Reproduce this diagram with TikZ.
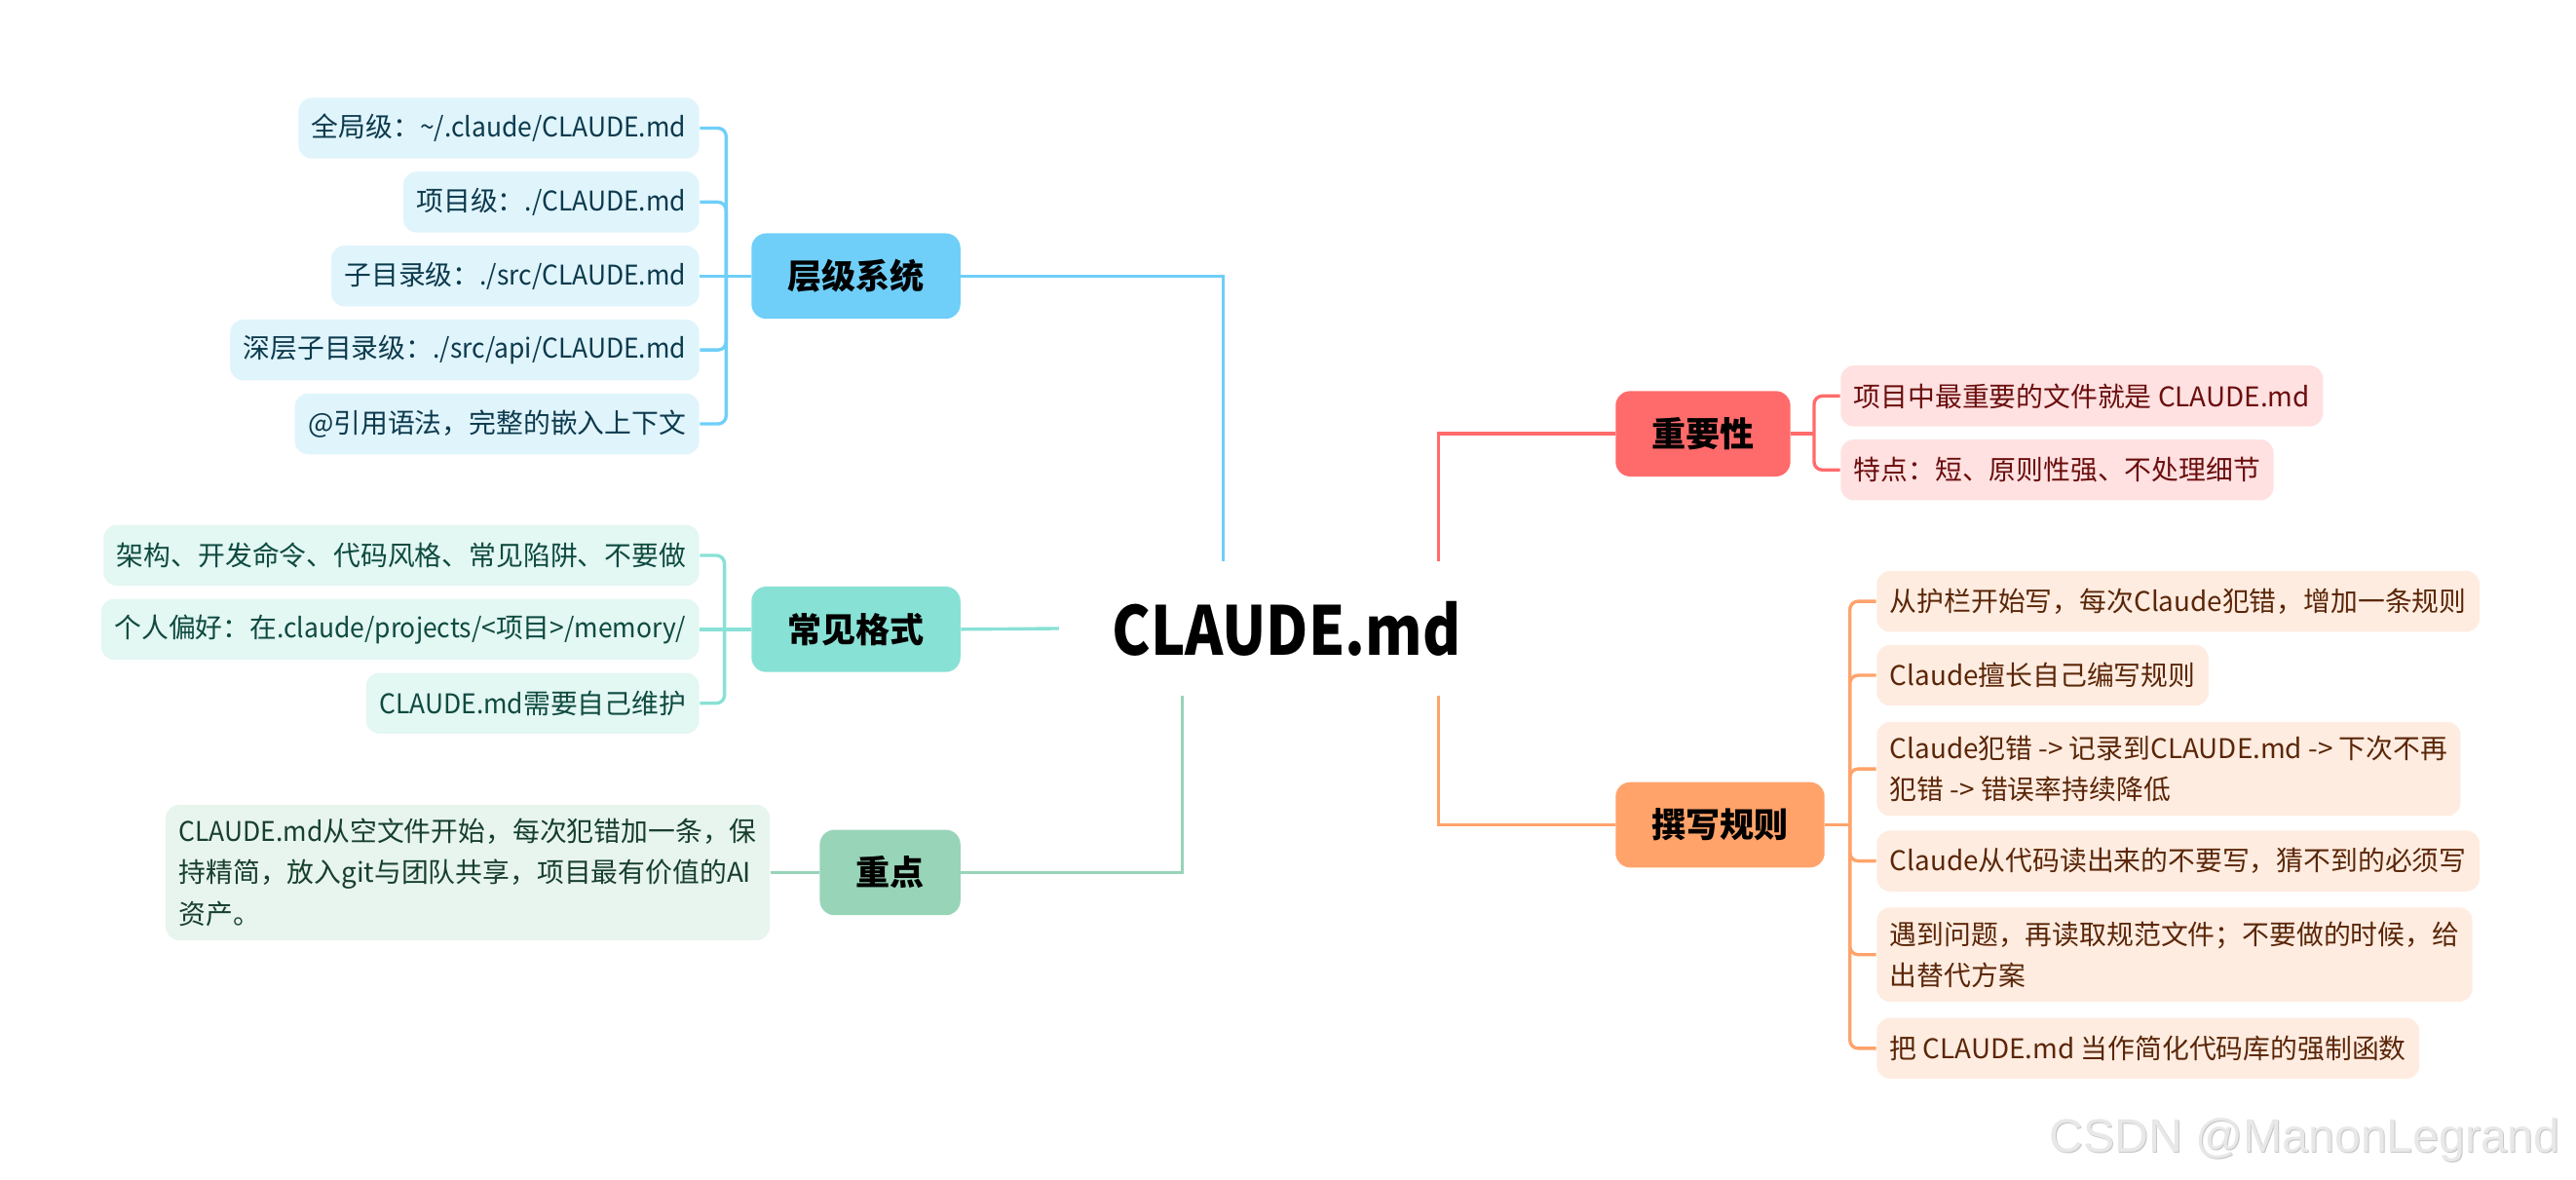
\documentclass[tikz,border=0pt]{standalone}
\usepackage{fontspec}
\setmainfont{Noto Sans CJK SC}
\newfontfamily\ltn[FakeStretch=0.95]{Noto Sans CJK SC}
\newfontfamily\wmfont{Liberation Sans}
\usetikzlibrary{calc}
\definecolor{cB}{HTML}{6FCFF8}\definecolor{lB}{HTML}{E0F4FC}\definecolor{tB}{HTML}{0C3A4D}
\definecolor{cT}{HTML}{88E1D5}\definecolor{lT}{HTML}{E3F7F3}\definecolor{tT}{HTML}{0E4A40}
\definecolor{cG}{HTML}{98D4B8}\definecolor{lG}{HTML}{E8F5EE}\definecolor{tG}{HTML}{173F2E}
\definecolor{cR}{HTML}{FF6B6B}\definecolor{lR}{HTML}{FFE1E1}\definecolor{tR}{HTML}{6B0D0D}
\definecolor{cO}{HTML}{FFA36B}\definecolor{lO}{HTML}{FFECE0}\definecolor{tO}{HTML}{5A2608}
\newcommand\lffont{\fontsize{8.25}{12.5}\selectfont}
\newcommand\mbfont{\fontsize{10.4}{12}\selectfont\bfseries}
\newcommand\rtfont{\fontsize{20.5}{24}\selectfont\bfseries}
\begin{document}
\begin{tikzpicture}[x=0.5pt,y=-0.5pt,
  leaf/.style={rounded corners=4pt, inner xsep=4pt, inner ysep=4.25pt, minimum height=18.5pt, font=\lffont, align=left},
  mainbox/.style={rounded corners=4.5pt, inner xsep=11pt, inner ysep=3pt, minimum height=26pt, font=\mbfont, text=black},
  conn/.style={line width=1pt},
  bracket/.style={line width=1pt, rounded corners=2.5pt}]
\useasboundingbox (0,0) rectangle (1568,718);
% root
\node[minimum width=138pt, minimum height=40.5pt, inner sep=0pt, font=\rtfont] (root) at (783,382.5) {\scalebox{0.86}[1]{CLAUDE.md}};
% main boxes
\node[mainbox, fill=cB, anchor=east] (b1) at (585,168) {层级系统};
\node[mainbox, fill=cT, anchor=east] (b2) at (585,383) {常见格式};
\node[mainbox, fill=cG, anchor=east] (b3) at (585,531) {重点};
\node[mainbox, fill=cR, anchor=west] (b4) at (983,264) {重要性};
\node[mainbox, fill=cO, anchor=west] (b5) at (983,502) {撰写规则};
% blue leaves
\begin{scope}[every node/.style={leaf, fill=lB, text=tB, anchor=east}]
\node (l11) at (426,78) {全局级：{\ltn\textasciitilde/.claude/CLAUDE.md}};
\node (l12) at (426,123) {项目级：{\ltn./CLAUDE.md}};
\node (l13) at (426,168) {子目录级：{\ltn./src/CLAUDE.md}};
\node (l14) at (426,213) {深层子目录级：{\ltn./src/api/CLAUDE.md}};
\node (l15) at (426,258) {@引用语法，完整的嵌入上下文};
\end{scope}
% teal leaves
\begin{scope}[every node/.style={leaf, fill=lT, text=tT, anchor=east}]
\node (l21) at (426,338) {架构、开发命令、代码风格、常见陷阱、不要做};
\node (l22) at (426,383) {个人偏好：在{\ltn.claude/projects/<}项目{\ltn>/memory/}};
\node (l23) at (426,428) {{\ltn CLAUDE.md}需要自己维护};
\end{scope}
% green leaf
\node[leaf, fill=lG, text=tG, anchor=east] (l31) at (469,531) {{\ltn CLAUDE.md}从空文件开始，每次犯错加一条，保\\持精简，放入git与团队共享，项目最有价值的AI\\资产。};
% red leaves
\begin{scope}[every node/.style={leaf, fill=lR, text=tR, anchor=west}]
\node (l41) at (1120,241) {项目中最重要的文件就是 CLAUDE.md};
\node (l42) at (1120,286) {特点：短、原则性强、不处理细节};
\end{scope}
% orange leaves
\begin{scope}[every node/.style={leaf, fill=lO, text=tO, anchor=west}]
\node (l51) at (1142,366) {从护栏开始写，每次Claude犯错，增加一条规则};
\node (l52) at (1142,411) {Claude擅长自己编写规则};
\node (l53) at (1142,468) {Claude犯错 -> 记录到CLAUDE.md -> 下次不再\\犯错 -> 错误率持续降低};
\node (l54) at (1142,524) {Claude从代码读出来的不要写，猜不到的必须写};
\node (l55) at (1142,581) {遇到问题，再读取规范文件；不要做的时候，给\\出替代方案};
\node (l56) at (1142,638) {把 CLAUDE.md 当作简化代码库的强制函数};
\end{scope}
% main connectors
\draw[conn, cB] (root.north west) ++(100,0) |- (b1.east);
\draw[conn, cT] (root.west) -- (b2.east);
\draw[conn, cG] (root.south west) ++(75,0) |- (b3.east);
\draw[conn, cR] (root.north west) ++(231,0) |- (b4.west);
\draw[conn, cO] (root.south west) ++(231,0) |- (b5.west);
% junctions
\coordinate (j1) at ($(b1.west)+(-15,0)$);
\coordinate (j2) at ($(b2.west)+(-16,0)$);
\coordinate (j4) at ($(b4.east)+(14,0)$);
\coordinate (j5) at ($(b5.east)+(15,0)$);
% blue bracket
\draw[conn, cB] (j1) -- (b1.west);
\foreach \n in {l11,l12,l14,l15} \draw[bracket, cB] (\n.east) -| (j1);
\draw[conn, cB] (l13.east) -- (j1);
% teal bracket
\draw[conn, cT] (j2) -- (b2.west);
\foreach \n in {l21,l23} \draw[bracket, cT] (\n.east) -| (j2);
\draw[conn, cT] (l22.east) -- (j2);
% green
\draw[conn, cG] (l31.east) -- (b3.west);
% red bracket
\draw[conn, cR] (b4.east) -- (j4);
\foreach \n in {l41,l42} \draw[bracket, cR] (\n.west) -| (j4);
% orange bracket
\draw[conn, cO] (b5.east) -- (j5);
\foreach \n in {l51,l52,l53,l54,l55,l56} \draw[bracket, cO] (\n.west) -| (j5);
% watermark
\node[anchor=east, font=\wmfont\fontsize{14.3}{16}\selectfont, text=gray!45] (wm2) at (1565.6,694.6) {CSDN @ManonLegrand};
\node[anchor=east, font=\wmfont\fontsize{14.3}{16}\selectfont, text=gray!18] (wm) at (1565,694) {CSDN @ManonLegrand};
\end{tikzpicture}
\end{document}
